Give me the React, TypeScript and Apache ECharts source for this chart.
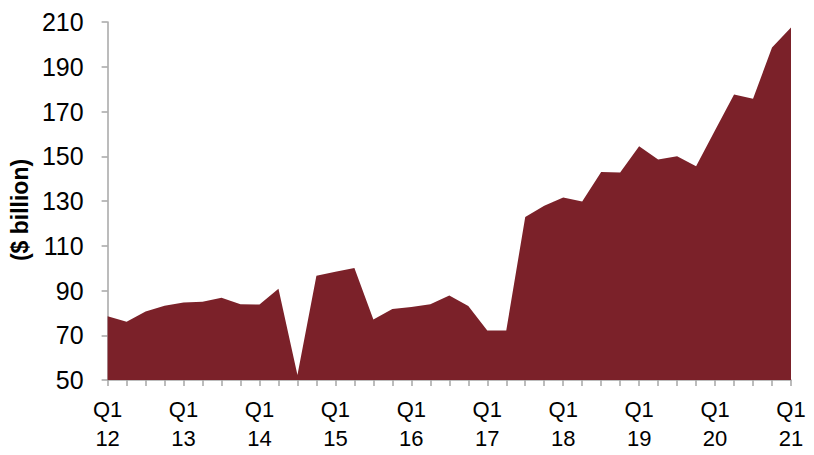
import React, { useEffect, useRef } from "react";
import * as echarts from "echarts";

const quarters: string[] = [];
const years = ["12", "13", "14", "15", "16", "17", "18", "19", "20", "21"];
for (const y of years) {
  for (const q of ["Q1", "Q2", "Q3", "Q4"]) {
    if (y === "21" && q !== "Q1") continue;
    quarters.push(q + " " + y);
  }
}

const values = [
  78.5, 76, 80.6, 83.2, 84.6, 85, 86.8, 83.9, 83.7, 90.8,
  52.2, 96.6, 98.4, 100.1, 77, 81.7, 82.6, 83.9, 87.8, 83.1,
  72.1, 72.1, 122.9, 127.9, 131.6, 129.8, 143, 142.7, 154.5, 148.5,
  150, 145.5, 161.6, 177.6, 175.7, 198.6, 207.5,
];

const yTicks = { min: 50, max: 210, interval: 20 };

export default function App() {
  const ref = useRef<HTMLDivElement>(null);
  useEffect(() => {
    if (!ref.current) return;
    const chart = echarts.init(ref.current, undefined, { renderer: "svg" });
    const font = "'Liberation Sans', Arial, sans-serif";
    chart.setOption({
      animation: false,
      grid: { left: 106, right: 23, top: 22, bottom: 75 },
      xAxis: {
        type: "category",
        data: quarters,
        boundaryGap: false,
        axisLine: { lineStyle: { color: "#a6a6a6", width: 1.5 } },
        axisTick: { interval: 0, length: 6, lineStyle: { color: "#a6a6a6", width: 1.5 } },
        axisLabel: {
          interval: 3,
          formatter: (v: string) => v.replace(" ", "\n"),
          color: "#000",
          fontFamily: font,
          fontSize: 22,
          lineHeight: 29,
          margin: 15,
        },
        splitLine: { show: false },
      },
      yAxis: {
        type: "value",
        min: yTicks.min,
        max: yTicks.max,
        interval: yTicks.interval,
        name: "($ billion)",
        nameLocation: "middle",
        nameRotate: 90,
        nameGap: 71,
        nameTextStyle: {
          fontFamily: font,
          fontSize: 23,
          fontWeight: "bold",
          color: "#000",
          padding: [0, 18, 0, 0],
        },
        axisLine: { show: true, lineStyle: { color: "#a6a6a6", width: 1.5 } },
        axisTick: { show: true, length: 6, lineStyle: { color: "#a6a6a6", width: 1.5 } },
        axisLabel: { color: "#000", fontFamily: font, fontSize: 25, margin: 24 },
        splitLine: { show: false },
      },
      series: [
        {
          type: "line",
          data: values,
          symbol: "none",
          lineStyle: { width: 0 },
          areaStyle: { color: "#7b2129", opacity: 1, origin: "start" },
          z: 1,
        },
      ],
    });
    return () => chart.dispose();
  }, []);
  return <div ref={ref} style={{ width: 814, height: 455, position: "absolute", left: 0, top: 0 }} />;
}
